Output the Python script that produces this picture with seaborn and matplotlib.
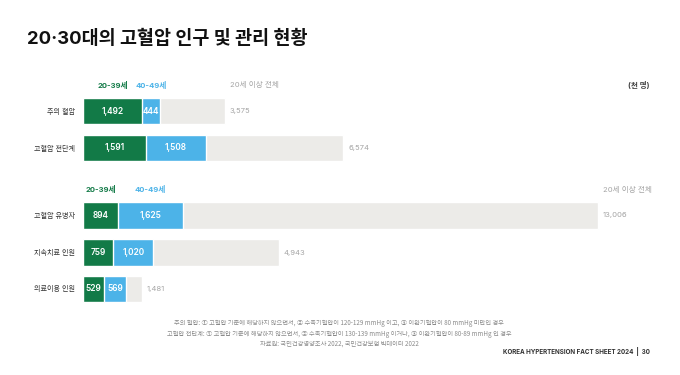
import numpy as np
import pandas as pd
import seaborn as sns
import matplotlib.pyplot as plt

# values in thousand people
categories = ['주의 혈압', '고혈압 전단계', '고혈압 유병자', '지속치료 인원', '의료이용 인원']
age_20_39 = [1492, 1591, 894, 759, 529]
age_40_49 = [444, 1508, 1625, 1020, 569]
total_20plus = [3575, 6574, 13006, 4943, 1481]
groups = [0, 0, 1, 1, 1]

series_names = ['20-39세', '40-49세', '20세 이상 전체']

notes = [
    '주의 혈압: ① 고혈압 기준에 해당하지 않으면서, ② 수축기혈압이 120-129 mmHg 이고, ③ 이완기혈압이 80 mmHg 미만인 경우',
    '고혈압 전단계: ① 고혈압 기준에 해당하지 않으면서, ② 수축기혈압이 130-139 mmHg 이거나, ③ 이완기혈압이 80-89 mmHg 인 경우',
    '자료원: 국민건강영양조사 2022, 국민건강보험 빅데이터 2022',
]

sns.set_style('white')
plt.rcParams['font.family'] = ['Inter', 'Noto Sans CJK KR', 'DejaVu Sans']

GREEN = '#127a47'
BLUE = '#4cb3e8'
GREY = '#ecebe8'
TXT_GREY = '#a5a5a5'

# layout: row centres (gap between the two groups)
row_pos = [0, 1, 2.82, 3.83, 4.81]

df = pd.DataFrame({
    'cat': categories,
    'pos': row_pos,
    'young': age_20_39,
    'cum': np.array(age_20_39) + np.array(age_40_49),
    'total': total_20plus,
})

W, H = 680, 375
fig = plt.figure(figsize=(W / 100, H / 100), dpi=100)
ax_left, ax_right, ax_top, ax_bot = 83, 660, 75, 310
ax = fig.add_axes([ax_left / W, 1 - ax_bot / H, (ax_right - ax_left) / W, (ax_bot - ax_top) / H])

px_per_unit = 515 / 13006
ax.set_xlim(0, (ax_right - ax_left) / px_per_unit)
ax.set_ylim((ax_bot - 111) / 37, (ax_top - 111) / 37)

for col, color in [('total', GREY), ('cum', BLUE), ('young', GREEN)]:
    sns.barplot(data=df, x=col, y='pos', orient='h', native_scale=True,
                color=color, width=0.74, saturation=1, ax=ax)

ax.set_axis_off()

px = 1 / px_per_unit
for i, cat in enumerate(categories):
    y = row_pos[i]
    a, b, t = age_20_39[i], age_40_49[i], total_20plus[i]
    ax.text(-8 * px, y, cat, ha='right', va='center', fontsize=5.1, color='#333333')
    ax.text(a / 2, y, f'{a:,}', ha='center', va='center', fontsize=6,
            color='white', fontweight='semibold')
    ax.text(a + b / 2, y, f'{b:,}', ha='center', va='center', fontsize=6,
            color='white', fontweight='semibold')
    ax.text(t + 5 * px, y, f'{t:,}', ha='left', va='center', fontsize=5.5, color=TXT_GREY)

# series headers above the first bar of each group
for g in [0, 1]:
    i = groups.index(g)
    y = row_pos[i] - 0.71
    a, b, t = age_20_39[i], age_40_49[i], total_20plus[i]
    ax.text(a / 2, y, series_names[0], ha='center', va='center', fontsize=5.5,
            color=GREEN, fontweight='bold')
    ax.text(a + b / 2, y, series_names[1], ha='center', va='center', fontsize=5.5,
            color=BLUE, fontweight='bold')
    ax.text(t + 5 * px, y, series_names[2], ha='left', va='center', fontsize=5.5,
            color=TXT_GREY)

ax.text((650 - ax_left) * px, row_pos[0] - 0.71, '(천 명)', ha='right', va='center',
        fontsize=5.5, color='#444444', fontweight='bold')

fig.text(27 / W, 1 - 39 / H, '20·30대의 고혈압 인구 및 관리 현황', ha='left', va='center',
         fontsize=13.3, fontweight='bold', color='#111111')

for k, line in enumerate(notes):
    fig.text(339 / W, 1 - (323 + k * 10.5) / H, line, ha='center', va='center',
             fontsize=4.5, color='#8a8a8a', family=['Noto Sans CJK KR', 'DejaVu Sans'])

fig.text(650 / W, 1 - 352 / H, 'KOREA HYPERTENSION FACT SHEET 2024  |  30', ha='right',
         va='center', fontsize=4.5, fontweight='bold', color='#333333')

fig.savefig('out.png', dpi=100)
